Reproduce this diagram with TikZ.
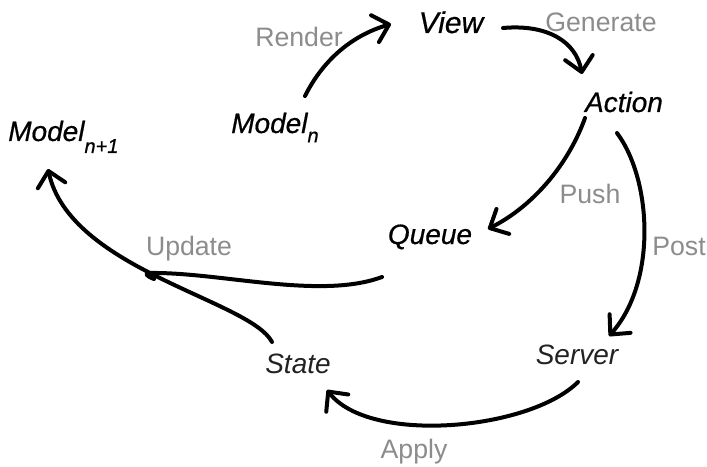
\documentclass[tikz,border=0pt]{standalone}
\usepackage{fontspec}
\setmainfont{Liberation Sans}
\newfontfamily\heavyfont[FakeBold=0.6]{Liberation Sans}
\usetikzlibrary{arrows.meta}
\definecolor{lblgray}{HTML}{8C8C8C}
\definecolor{nodegray}{HTML}{222222}
\begin{document}
\begin{tikzpicture}[x=0.75pt,y=-0.75pt,
  heavynode/.style={anchor=base,inner sep=0pt,font=\heavyfont\itshape\fontsize{21}{24}\selectfont,text=black},
  lightnode/.style={anchor=base,inner sep=0pt,font=\itshape\fontsize{21}{24}\selectfont,text=nodegray},
  lbl/.style={anchor=base,inner sep=0pt,font=\fontsize{20}{24}\selectfont,text=lblgray},
  flow/.style={line width=3pt,line cap=round,line join=round,black,-{Straight Barb[length=11pt,width=21pt,line cap=round,line join=round]}},
  flowplain/.style={line width=3pt,line cap=round,line join=round,black}]
\useasboundingbox (0,0) rectangle (707,467);
% nodes
\node[heavynode,font=\heavyfont\itshape\fontsize{22.5}{24}\selectfont] (view) at (451,33) {View};
\node[heavynode] (action) at (624,112) {Action};
\node[heavynode] (queue) at (430,244) {Queue};
\node[lightnode] (server) at (577,364) {Server};
\node[lightnode] (state) at (298,373) {State};
\node[heavynode,anchor=base west] (modeln) at (231,133) {Model\raisebox{-7pt}{\fontsize{15}{16}\selectfont n}};
\node[heavynode,anchor=base west] (modelnn) at (8,141) {Model\raisebox{-9pt}{\fontsize{15}{16}\selectfont n+1}};
% labels
\node[lbl] (render) at (299,47) {Render};
\node[lbl] (generate) at (601,32) {Generate};
\node[lbl] (push) at (590,203) {Push};
\node[lbl] (post) at (679,255) {Post};
\node[lbl] (update) at (189,255) {Update};
\node[lbl] (apply) at (414,458) {Apply};
% connector end points
\coordinate (rs) at (305,96);   \coordinate (re) at (391,24);
\coordinate (gs) at (503,28);   \coordinate (ge) at (582,74);
\coordinate (ps) at (585,118);  \coordinate (pe) at (488,229);
\coordinate (os) at (617,133);  \coordinate (oe) at (609,336);
\coordinate (as) at (578,382);  \coordinate (ae) at (327,390);
\coordinate (ss) at (272,342);  \coordinate (se) at (48,169);
\coordinate (qs) at (382,277);  \coordinate (qe) at (150,273);
% connectors
\draw[flow] (rs) .. controls (322,62) and (350,36) .. (re);
\draw[flow] (gs) .. controls (548,24) and (576,42) .. (ge);
\draw[flow] (ps) .. controls (570,160) and (537,204) .. (pe);
\draw[flow] (os) .. controls (652,180) and (657,282) .. (oe);
\draw[flow] (as) .. controls (530,430) and (370,445) .. (ae);
\draw[flow] (ss) .. controls (250,300) and (70,270) .. (se);
\draw[flowplain] (qs) .. controls (320,300) and (220,272) .. (qe) .. controls (144,273) and (146,276) .. (154,279);
\end{tikzpicture}
\end{document}
